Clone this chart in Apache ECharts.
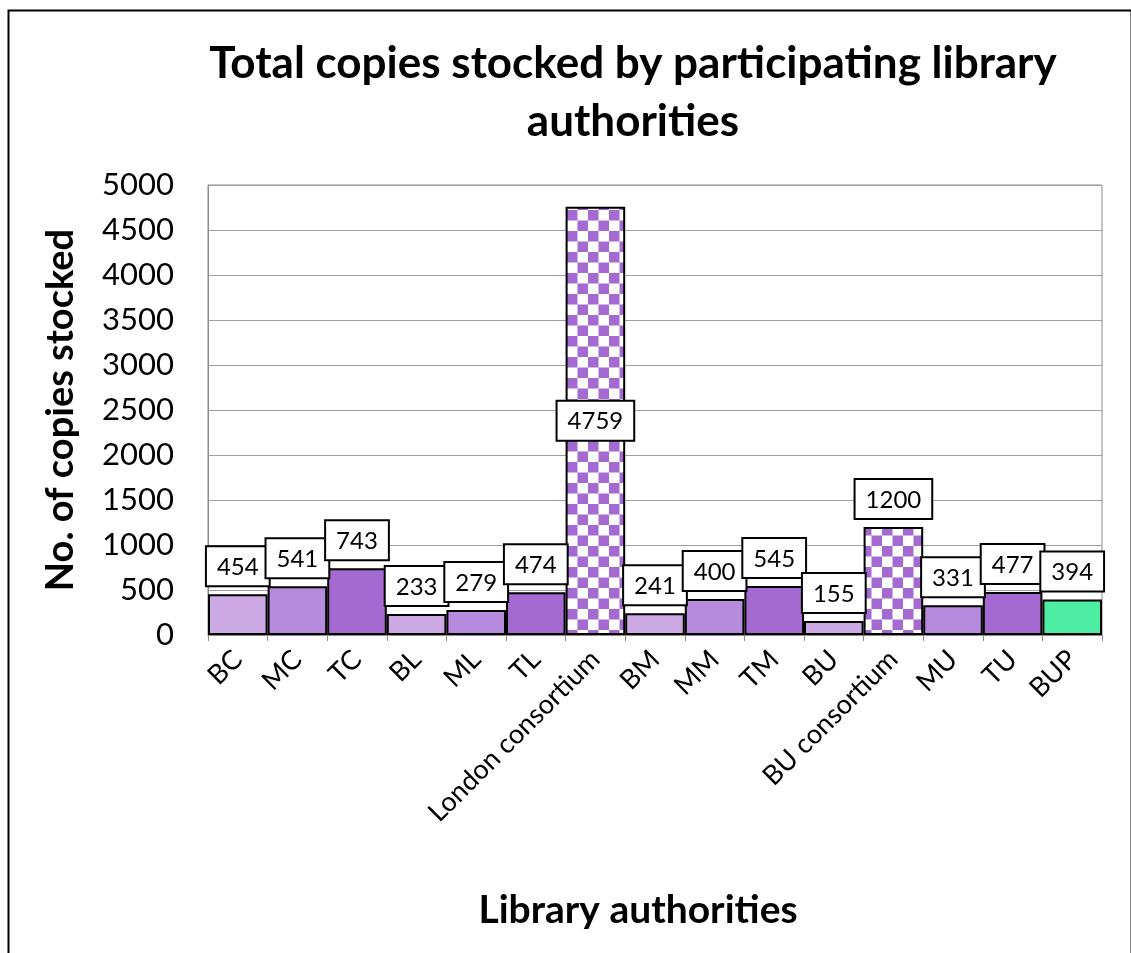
<!DOCTYPE html>
<html>
<head>
<meta charset="utf-8">
<script src="https://cdn.jsdelivr.net/npm/echarts@6/dist/echarts.min.js"></script>
<style>
html,body{margin:0;padding:0;background:#fff;}
#main{width:1131px;height:953px;}
</style>
</head>
<body>
<div id="main"></div>
<script>
var categories = ['BC','MC','TC','BL','ML','TL','London consortium','BM','MM','TM','BU','BU consortium','MU','TU','BUP'];
var copies = [454, 541, 743, 233, 279, 474, 4759, 241, 400, 545, 155, 1200, 331, 477, 394];
var groups = ['B','M','T','B','M','T','C','B','M','T','B','C','M','T','P'];
var yTicks = {min: 0, max: 5000, interval: 500};

var FONT = 'Lato';
var palette = {B: '#CDA9E4', M: '#B68BDD', T: '#A46AD2', P: '#4DEEA3'};

function checker() {
  var c = document.createElement('canvas');
  var s = 10.5;
  c.width = 21; c.height = 21;
  var ctx = c.getContext('2d');
  ctx.fillStyle = '#fff';
  ctx.fillRect(0, 0, 21, 21);
  ctx.fillStyle = '#A46AD2';
  ctx.fillRect(0, 0, s, s);
  ctx.fillRect(s, s, s, s);
  return c;
}
var pat = {image: checker(), repeat: 'repeat'};

var data = copies.map(function (v, i) {
  var g = groups[i];
  var item = {value: v, itemStyle: {color: g === 'C' ? pat : palette[g]}};
  if (v > 3000) item.label = {position: 'inside'};
  return item;
});

var chart = echarts.init(document.getElementById('main'), null, {renderer: 'canvas'});
chart.setOption({
  animation: false,
  backgroundColor: '#fff',
  textStyle: {fontFamily: FONT},
  title: {
    text: 'Total copies stocked by participating library\nauthorities',
    left: 628, top: 30, textAlign: 'center',
    textStyle: {fontFamily: FONT, fontSize: 44, fontWeight: 'bold', color: '#000', lineHeight: 58}
  },
  graphic: [{
    type: 'rect', left: 6, top: 8, z: 100, silent: true,
    shape: {width: 1123, height: 980},
    style: {fill: 'none', stroke: '#000', lineWidth: 2}
  }],
  grid: {left: 208, right: 29, top: 185, bottom: 318, show: true, borderColor: '#8c8c8c', borderWidth: 1},
  xAxis: {
    type: 'category', data: categories,
    name: 'Library authorities', nameLocation: 'middle', nameGap: 256,
    nameTextStyle: {fontFamily: FONT, fontSize: 39, fontWeight: 'bold', color: '#000', padding: [0, 34, 0, 0]},
    axisLine: {lineStyle: {color: '#8c8c8c'}},
    axisTick: {show: true, length: 6, lineStyle: {color: '#8c8c8c'}},
    axisLabel: {rotate: 45, fontSize: 27, color: '#000', fontFamily: FONT, margin: 20, interval: 0}
  },
  yAxis: {
    type: 'value', min: yTicks.min, max: yTicks.max, interval: yTicks.interval,
    name: 'No. of copies stocked', nameLocation: 'middle', nameGap: 128,
    nameTextStyle: {fontFamily: FONT, fontSize: 38, fontWeight: 'bold', color: '#000'},
    axisLine: {show: true, lineStyle: {color: '#8c8c8c'}},
    axisTick: {show: false},
    splitLine: {lineStyle: {color: '#a0a0a0'}},
    axisLabel: {fontSize: 31, color: '#000', fontFamily: FONT, margin: 34,
      formatter: function (v) { return String(v); }}
  },
  series: [{
    type: 'bar', data: data,
    barWidth: '100%', barCategoryGap: 0,
    itemStyle: {borderColor: '#000', borderWidth: 2},
    label: {
      show: true, position: 'top', distance: 9,
      backgroundColor: '#fff', borderColor: '#000', borderWidth: 2,
      padding: [8, 10, 6, 10], fontSize: 24, color: '#000', fontFamily: FONT
    }
  }]
});
</script>
</body>
</html>
